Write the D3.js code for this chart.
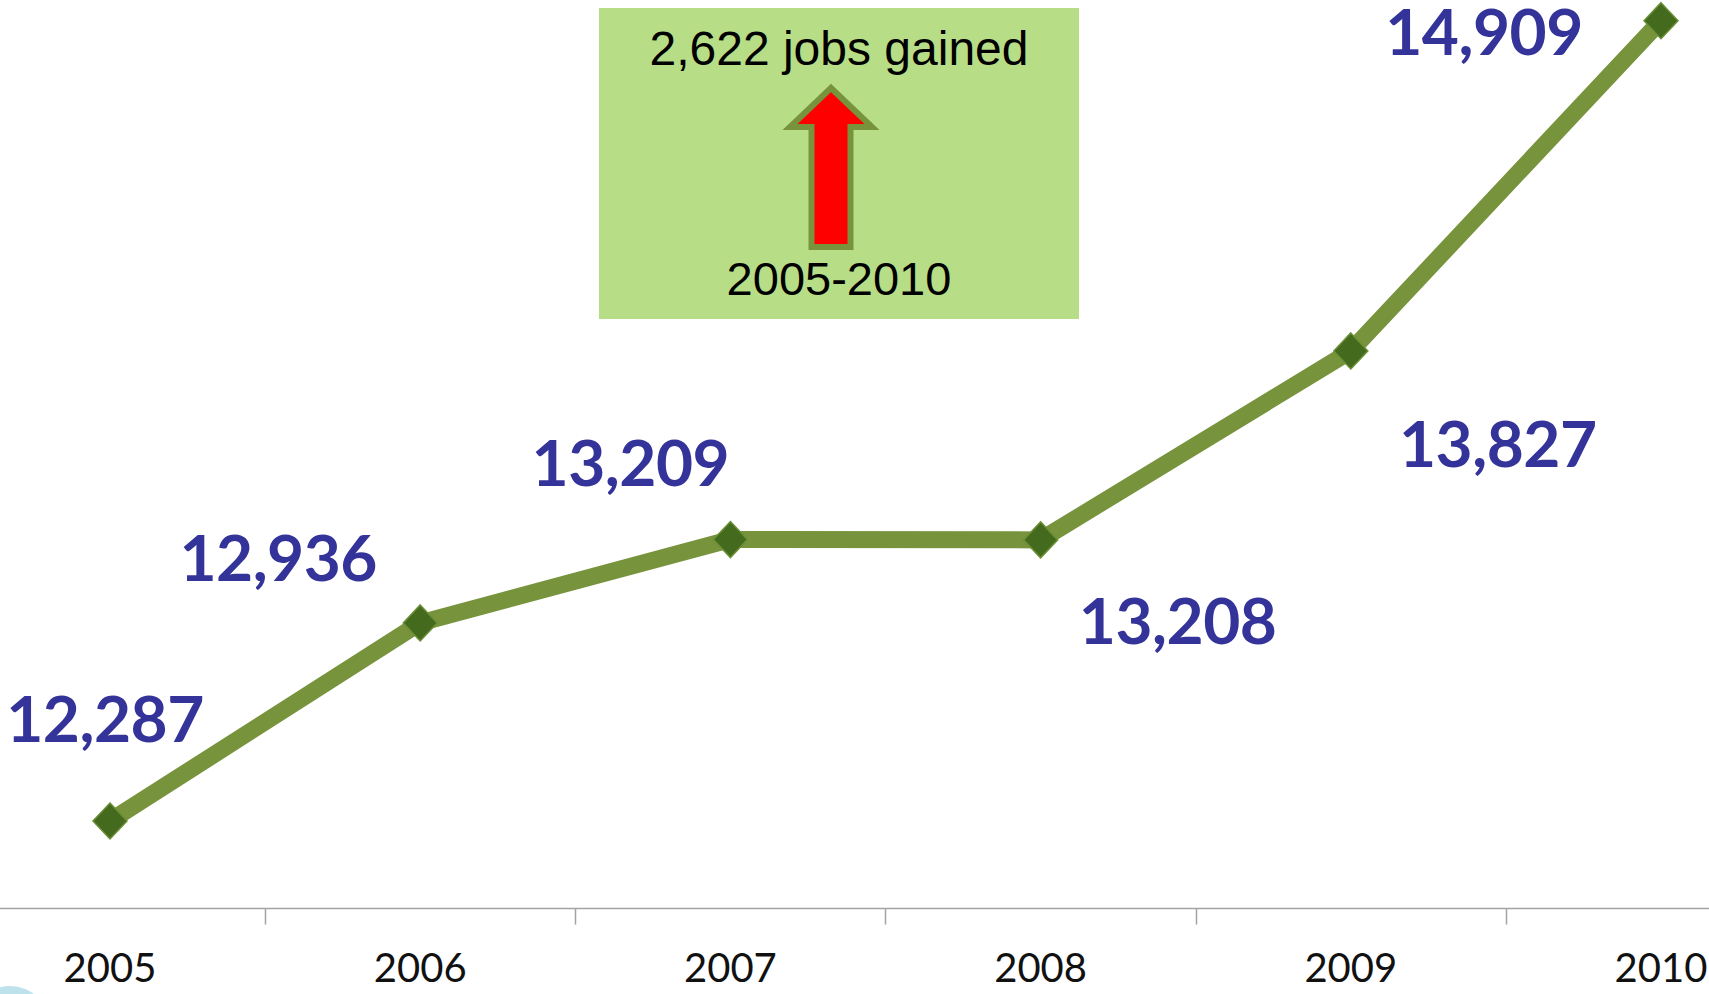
<!DOCTYPE html>
<html>
<head>
<meta charset="utf-8">
<script src="https://cdn.jsdelivr.net/npm/d3@7"></script>
<style>
  html, body { margin: 0; padding: 0; background: #ffffff; overflow: hidden; }
  svg { display: block; }
</style>
</head>
<body>
<svg id="chart" width="1709" height="994"></svg>
<script>
// Employment by year
const years = ["2005", "2006", "2007", "2008", "2009", "2010"];
const jobs = [12287, 12936, 13209, 13208, 13827, 14909];

// Value axis bounds
const yDomain = [12000, 15000];

// Where each value label sits relative to its marker (px)
const labelOffsets = [[-5, -79], [-142, -42], [-100, -54], [137, 104], [147, 116], [-177, 34]];

// Call-out box text
const calloutLines = ["2,622 jobs gained", "2005-2010"];

(function draw() {
  const W = 1709;
  const svg = d3.select("#chart");

  const x = d3.scaleBand().domain(years).range([-45.1, 1816.1]).padding(0);
  const y = d3.scaleLinear().domain(yDomain).range([908.6, -7.1]);
  const cx = d => x(d) + x.bandwidth() / 2;

  // Decorative circle peeking in at the lower-left corner
  svg.append("circle")
    .attr("cx", 10).attr("cy", 1026).attr("r", 40)
    .attr("fill", "#BEE2EC");

  // Category axis: baseline, boundary ticks, and year labels
  const axisY = y(yDomain[0]);
  svg.append("line")
    .attr("x1", 0).attr("x2", W)
    .attr("y1", axisY).attr("y2", axisY)
    .attr("stroke", "#A3A3A3").attr("stroke-width", 1.5);

  svg.append("g").selectAll("line")
    .data(years.slice(1))
    .join("line")
    .attr("x1", d => Math.round(x(d)) + 0.5)
    .attr("x2", d => Math.round(x(d)) + 0.5)
    .attr("y1", axisY).attr("y2", axisY + 16)
    .attr("stroke", "#A3A3A3").attr("stroke-width", 1.5);

  const xAxis = d3.axisBottom(x).tickSize(0).tickPadding(0);
  const gx = svg.append("g")
    .attr("transform", `translate(0,${axisY})`)
    .call(xAxis);
  gx.select(".domain").remove();
  gx.selectAll("text")
    .attr("y", 73).attr("dy", null)
    .attr("font-family", "Lato, 'Open Sans', sans-serif")
    .attr("font-size", 40)
    .attr("fill", "#111111");

  // Trend line
  const line = d3.line()
    .x((d, i) => cx(years[i]))
    .y(d => y(d));

  svg.append("path")
    .datum(jobs)
    .attr("d", line)
    .attr("fill", "none")
    .attr("stroke", "#77933C")
    .attr("stroke-width", 17)
    .attr("stroke-linejoin", "round");

  // Diamond markers
  const diamond = "M0,-18L17,0L0,18L-17,0Z";
  svg.append("g").selectAll("path")
    .data(jobs)
    .join("path")
    .attr("d", diamond)
    .attr("transform", (d, i) => `translate(${cx(years[i])},${y(d)})`)
    .attr("fill", "#436A1D")
    .attr("stroke", "#6A8F35")
    .attr("stroke-width", 1.5);

  // Value labels
  const fmt = d3.format(",");
  svg.append("g").selectAll("text")
    .data(jobs)
    .join("text")
    .attr("x", (d, i) => cx(years[i]) + labelOffsets[i][0])
    .attr("y", (d, i) => y(d) + labelOffsets[i][1])
    .attr("text-anchor", "middle")
    .attr("font-family", "Lato, 'Open Sans', sans-serif")
    .attr("font-weight", 700)
    .attr("font-size", 64)
    .attr("letter-spacing", -0.5)
    .attr("fill", "#333399")
    .text(d => fmt(d));

  // Call-out box with the overall gain
  const box = { x: 599, y: 8, w: 480, h: 311 };
  const callout = svg.append("g");
  callout.append("rect")
    .attr("x", box.x).attr("y", box.y)
    .attr("width", box.w).attr("height", box.h)
    .attr("fill", "#B7DE87");

  const bx = box.x + box.w / 2;
  callout.append("text")
    .attr("x", bx).attr("y", box.y + 57)
    .attr("text-anchor", "middle")
    .attr("font-family", "'Liberation Sans', Arial, sans-serif")
    .attr("font-size", 48)
    .attr("fill", "#000000")
    .text(calloutLines[0]);

  callout.append("text")
    .attr("x", bx).attr("y", box.y + 287)
    .attr("text-anchor", "middle")
    .attr("font-family", "'Liberation Sans', Arial, sans-serif")
    .attr("font-size", 47)
    .attr("fill", "#000000")
    .text(calloutLines[1]);

  // Up arrow inside the call-out
  const ax = bx - 8, tipY = box.y + 80, headBase = box.y + 119, tailY = box.y + 239;
  const headHalf = 41, shaftHalf = 19.5;
  const arrow = d3.path();
  arrow.moveTo(ax, tipY);
  arrow.lineTo(ax + headHalf, headBase);
  arrow.lineTo(ax + shaftHalf, headBase);
  arrow.lineTo(ax + shaftHalf, tailY);
  arrow.lineTo(ax - shaftHalf, tailY);
  arrow.lineTo(ax - shaftHalf, headBase);
  arrow.lineTo(ax - headHalf, headBase);
  arrow.closePath();
  callout.append("path")
    .attr("d", arrow.toString())
    .attr("fill", "#FF0000")
    .attr("stroke", "#77933C")
    .attr("stroke-width", 6)
    .attr("stroke-linejoin", "miter");
})();
</script>
</body>
</html>
